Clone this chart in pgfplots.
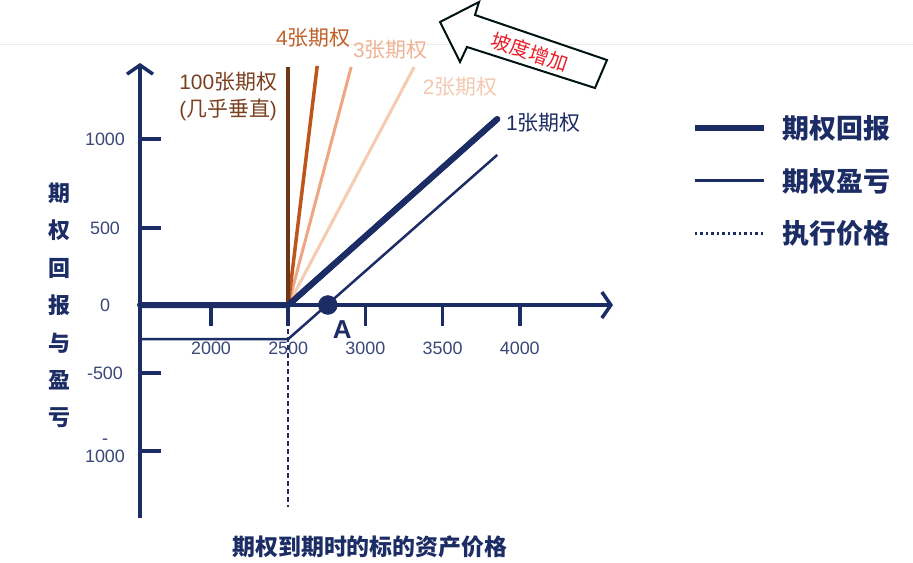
\documentclass[border=0pt]{standalone}
\usepackage{pgfplots}
\pgfplotsset{compat=1.18}
\usetikzlibrary{arrows.meta}
\usepackage{fontspec}
\setmainfont{Liberation Sans}
\newfontfamily\cjk{Noto Sans CJK SC}
\definecolor{navy}{HTML}{1C2C64}
\definecolor{ticktext}{HTML}{3A4878}
\definecolor{c100}{HTML}{6E3516}
\definecolor{c4}{HTML}{BC561B}
\definecolor{c3}{HTML}{EDA784}
\definecolor{c2}{HTML}{F6CBB1}
\definecolor{t100}{HTML}{7A4020}
\definecolor{t4}{HTML}{C0612A}
\definecolor{t3}{HTML}{F0B394}
\definecolor{t2}{HTML}{F3C9B2}
\definecolor{redtxt}{HTML}{E8202A}
\begin{document}
\begin{tikzpicture}
\useasboundingbox (0,0) rectangle (913bp,563bp);
\fill[white] (0,0) rectangle (913bp,563bp);
\draw[black!8, line width=1bp] (0,518bp) -- (913bp,518bp);
\begin{axis}[
  at={(140bp,45bp)}, anchor=south west,
  scale only axis, width=473bp, height=455bp,
  xmin=1540, xmax=4604, ymin=-1283, ymax=1458,
  axis x line=middle, axis y line=left,
  axis line style={navy, line width=3.5bp},
  x axis line style={-{Straight Barb[length=9bp,width=26bp]}},
  y axis line style={-{Straight Barb[length=9bp,width=26bp]}},
  xtick={2000,2500,3000,3500,4000},
  xticklabels={2000,2500,3000,3500,4000},
  ytick={-880,-410,0,464,1000},
  yticklabels={{-\\[-2bp]1000},-500,0,500,1000},
  tick style={navy, line width=3.5bp},
  major tick length=21bp,
  xtick align=outside,
  ytick align=inside,
  xticklabel style={anchor=center, yshift=-22bp, font=\fontsize{18}{20}\selectfont, text=ticktext},
  yticklabel style={anchor=center, xshift=-35bp, align=center, font=\fontsize{18}{20}\selectfont, text=ticktext},
  /pgf/number format/assume math mode=true,
  xlabel={期权到期时的标的资产价格},
  xlabel style={at={(axis description cs:0.486,-0.0637)}, anchor=center, font=\fontsize{23}{26}\selectfont\cjk\bfseries, text=navy},
  ylabel={期\\权\\回\\报\\与\\盈\\亏},
  ylabel style={at={(axis description cs:-0.171,0.467)}, anchor=center, rotate=-90, align=center, font=\fontsize{22}{37.5}\selectfont\cjk\bfseries, text=navy},
  clip=false,
  legend style={at={(axis description cs:1.16,0.893)}, anchor=north west, draw=none, fill=none,
    font=\fontsize{27}{30}\selectfont\cjk\bfseries, text=navy, row sep=24bp,
    /tikz/every odd column/.append style={column sep=14bp}},
  legend cell align=left,
  legend image code/.code={\draw[#1, line cap=butt] (0bp,0bp) -- (69bp,0bp);},
]
% payoff and P&L
\addplot[navy, line width=6bp, line cap=round, line join=round] coordinates {(1540,0) (2500,0) (3854,1120)};
\addlegendentry{期权回报}
\addplot[navy, line width=2.5bp] coordinates {(1540,-205) (2500,-205) (3854,904)};
\addlegendentry{期权盈亏}
\addplot[navy, line width=2.5bp, dash pattern=on 5bp off 3bp,
  legend image code/.code={\draw[navy, line width=3bp, dash pattern=on 2.5bp off 3bp] (0bp,0bp) -- (69bp,0bp);}]
  coordinates {(2500,0) (2500,-1217)};
\addlegendentry{执行价格}
% steeper lines
\addplot[forget plot, c2, line width=3bp] coordinates {(2500,0) (3316,1434)};
\addplot[forget plot, c3, line width=3bp] coordinates {(2500,0) (2908,1434)};
\addplot[forget plot, c4, line width=3.5bp] coordinates {(2500,0) (2688,1440)};
\addplot[forget plot, c100, line width=4bp] coordinates {(2500,0) (2500,1434)};
\addplot[forget plot, navy, line width=6bp, line cap=round] coordinates {(2500,0) (3854,1120)};
% point A
\addplot[forget plot, only marks, mark=*, mark size=9.5bp, navy] coordinates {(2757,0)};
\node[navy, font=\fontsize{26}{28}\selectfont\bfseries] at (axis cs:2850,-151) {A};
% annotations
\node[t4, font=\fontsize{21}{24}\selectfont] at (axis cs:2662,1608) {4{\cjk 张期权}};
\node[t3, font=\fontsize{21}{24}\selectfont] at (axis cs:3161,1536) {3{\cjk 张期权}};
\node[t2, font=\fontsize{21}{24}\selectfont] at (axis cs:3614,1313) {2{\cjk 张期权}};
\node[t100, font=\fontsize{21}{27}\selectfont, align=center] at (axis cs:2111,1259) {100{\cjk 张期权}\\({\cjk 几乎垂直})};
\node[navy, font=\fontsize{21}{24}\selectfont] at (axis cs:4152,1096) {1{\cjk 张期权}};
\end{axis}
% slope arrow
\draw[black!85!teal, line width=2bp, fill=white, line join=miter]
  (440bp,541bp) -- (479bp,561bp) -- (475bp,548bp) -- (607bp,503bp) -- (595bp,475bp)
  -- (467bp,516bp) -- (460bp,501bp) -- cycle;
\node[redtxt, rotate=-18.5, font=\fontsize{20}{22}\selectfont\cjk] at (530bp,511bp) {坡度增加};
\end{tikzpicture}
\end{document}
